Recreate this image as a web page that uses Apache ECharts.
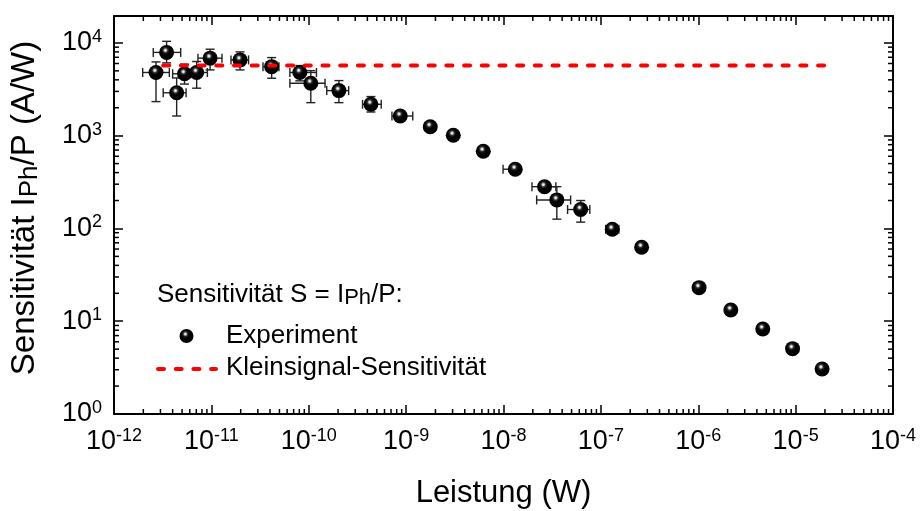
<!DOCTYPE html>
<html><head><meta charset="utf-8">
<script src="https://cdn.jsdelivr.net/npm/echarts@6/dist/echarts.min.js"></script>
<style>html,body{margin:0;padding:0;background:#fff}#c{width:920px;height:511px}</style>
</head><body><div id="c"></div>
<script>
// ---- data ----
const power = [2.7e-12, 3.47e-12, 4.4e-12, 5.3e-12, 7.06e-12, 9.7e-12, 1.97e-11, 4.16e-11, 8.1e-11, 1.05e-10, 2.04e-10, 4.35e-10, 8.7e-10, 1.77e-9, 3.05e-9, 6.2e-9, 1.32e-8, 2.64e-8, 3.53e-8, 6.2e-8, 1.31e-7, 2.62e-7, 1.02e-6, 2.16e-6, 4.6e-6, 9.3e-6, 1.87e-5];
const sensitivity = [4800, 7900, 2900, 4650, 4800, 6850, 6560, 5550, 4800, 3680, 3060, 2180, 1630, 1250, 1010, 680, 435, 282, 203, 160, 98, 62.7, 23.0, 13.2, 8.25, 5.06, 3.06];
const powerLow  = [1.97e-12, 2.53e-12, 3.2e-12, 4.0e-12, 5.57e-12, 7.28e-12, 1.59e-11, 3.39e-11, 6.4e-11, 6.4e-11, 1.53e-10, 3.57e-10, 7.15e-10, 1.56e-9, 2.8e-9, 5.6e-9, 9.9e-9, 1.96e-8, 2.19e-8, 4.55e-8, 1.12e-7, 2.45e-7, null, null, null, null, null];
const powerHigh = [3.7e-12, 4.84e-12, 5.5e-12, 6.13e-12, 9.1e-12, 1.285e-11, 2.41e-11, 4.94e-11, 1.2e-10, 1.47e-10, 2.57e-10, 5.55e-10, 1.17e-9, 1.98e-9, 3.3e-9, 6.8e-9, 1.47e-8, 3.45e-8, 4.89e-8, 7.7e-8, 1.53e-7, 2.8e-7, null, null, null, null, null];
const sensLow  = [2330, 6090, 1630, 3600, 3250, 5115, 5115, 4160, 3900, 2270, 2270, 1800, 1470, 1130, 920, 620, 405, 260, 126, 117, 88, 58, null, null, null, null, null];
const sensHigh = [6240, 10400, 4190, 5900, 6300, 8550, 8000, 6950, 5700, 5025, 3925, 2640, 1800, 1380, 1110, 745, 465, 305, 282, 200, 108, 68, null, null, null, null, null];
const smallSignalPower = [3.2e-12, 2.0e-5];
const smallSignalSens = [5700, 5700];
const xTickExponents = [-12, -11, -10, -9, -8, -7, -6, -5, -4];
const yTickExponents = [0, 1, 2, 3, 4];
const xMin = 1e-12, xMax = 1e-4, yMin = 1, yMax = 19500;

// ---- build ----
const FONT = 'Liberation Sans, Arial, sans-serif';
const scatterData = power.map((p, i) => [p, sensitivity[i]]);
const errData = [];
power.forEach((p, i) => { if (powerLow[i] != null) errData.push([p, sensitivity[i], powerLow[i], powerHigh[i], sensLow[i], sensHigh[i]]); });
const lineData = smallSignalPower.map((p, i) => [p, smallSignalSens[i]]);
const minorX = [], minorY = [];
for (let e = xTickExponents[0]; e < xTickExponents[xTickExponents.length - 1]; e++) for (let k = 2; k <= 9; k++) minorX.push([k * Math.pow(10, e), yMin]);
for (let e = yTickExponents[0]; e <= yTickExponents[yTickExponents.length - 1]; e++) for (let k = 2; k <= 9; k++) { const v = k * Math.pow(10, e); if (v < yMax) minorY.push([xMin, v]); }

function powLabel(list) {
  return function (v) {
    const l = Math.log10(v), e = Math.round(l);
    if (Math.abs(l - e) > 1e-6 || list.indexOf(e) < 0) return '';
    return '{b|10}{s|' + e + '}';
  };
}
const richTick = {
  b: { fontFamily: FONT, fontSize: 27, color: '#000', lineHeight: 30 },
  s: { fontFamily: FONT, fontSize: 18, color: '#000', lineHeight: 18, verticalAlign: 'top' }
};
const ballColor = { type: 'radial', x: 0.42, y: 0.36, r: 0.62, colorStops: [
  { offset: 0, color: '#ffffff' }, { offset: 0.1, color: '#d8d8d8' }, { offset: 0.26, color: '#2e2e2e' }, { offset: 0.45, color: '#020202' }, { offset: 1, color: '#000' }] };

const axisBase = { type: 'log', logBase: 10, axisLine: { show: true, onZero: false, lineStyle: { color: '#000', width: 2 } },
  axisTick: { show: true, inside: true, length: 9, lineStyle: { color: '#000', width: 1.5 } }, splitLine: { show: false } };

const chart = echarts.init(document.getElementById('c'), null, { renderer: 'canvas' });
chart.setOption({
  animation: false,
  backgroundColor: '#fff',
  grid: { left: 114, right: 27, top: 16, bottom: 97, containLabel: false, outerBoundsMode: 'none' },
  xAxis: [
    Object.assign({}, axisBase, { position: 'bottom', min: xMin, max: xMax,
      name: 'Leistung (W)', nameLocation: 'middle', nameGap: 64,
      nameTextStyle: { fontFamily: FONT, fontSize: 31, color: '#000' },
      axisLabel: { show: true, margin: 13, formatter: powLabel(xTickExponents), rich: richTick } }),
    Object.assign({}, axisBase, { position: 'top', min: xMin, max: xMax, axisLabel: { show: false } })
  ],
  yAxis: [
    Object.assign({}, axisBase, { position: 'left', min: yMin, max: yMax,
      name: 'Sensitivität I{sub|Ph}/P (A/W)', nameLocation: 'middle', nameGap: 71, nameRotate: 90,
      nameTextStyle: { fontFamily: FONT, fontSize: 33, color: '#000', lineHeight: 36, padding: [0, 0, 0, 14],
        rich: { sub: { fontFamily: FONT, fontSize: 26, color: '#000', lineHeight: 22, verticalAlign: 'bottom' } } },
      axisLabel: { show: true, margin: 12, formatter: powLabel(yTickExponents), rich: richTick, showMaxLabel: false } }),
    Object.assign({}, axisBase, { position: 'right', min: yMin, max: yMax, axisLabel: { show: false } })
  ],
  series: [
    { type: 'custom', name: 'minorX', data: minorX, silent: true, clip: false, z: 1,
      renderItem: function (params, api) {
        const cs = params.coordSys; const px = api.coord([api.value(0), yMin])[0];
        const st = { stroke: '#000', lineWidth: 1.5 };
        return { type: 'group', children: [
          { type: 'line', shape: { x1: px, y1: cs.y + cs.height, x2: px, y2: cs.y + cs.height - 5 }, style: st },
          { type: 'line', shape: { x1: px, y1: cs.y, x2: px, y2: cs.y + 5 }, style: st }] };
      } },
    { type: 'custom', name: 'minorY', data: minorY, silent: true, clip: false, z: 1,
      renderItem: function (params, api) {
        const cs = params.coordSys; const py = api.coord([xMin, api.value(1)])[1];
        const st = { stroke: '#000', lineWidth: 1.5 };
        return { type: 'group', children: [
          { type: 'line', shape: { x1: cs.x, y1: py, x2: cs.x + 5, y2: py }, style: st },
          { type: 'line', shape: { x1: cs.x + cs.width, y1: py, x2: cs.x + cs.width - 5, y2: py }, style: st }] };
      } },
    { type: 'custom', name: 'errors', data: errData, silent: true, z: 2,
      encode: { x: 0, y: 1 },
      renderItem: function (params, api) {
        const x = api.value(0), y = api.value(1);
        const c = 4.5, st = { stroke: '#222', lineWidth: 1.4 };
        const a = api.coord([api.value(2), y]), b = api.coord([api.value(3), y]);
        const u = api.coord([x, api.value(5)]), d = api.coord([x, api.value(4)]);
        return { type: 'group', children: [
          { type: 'line', shape: { x1: a[0], y1: a[1], x2: b[0], y2: b[1] }, style: st },
          { type: 'line', shape: { x1: a[0], y1: a[1] - c, x2: a[0], y2: a[1] + c }, style: st },
          { type: 'line', shape: { x1: b[0], y1: b[1] - c, x2: b[0], y2: b[1] + c }, style: st },
          { type: 'line', shape: { x1: u[0], y1: u[1], x2: d[0], y2: d[1] }, style: st },
          { type: 'line', shape: { x1: u[0] - c, y1: u[1], x2: u[0] + c, y2: u[1] }, style: st },
          { type: 'line', shape: { x1: d[0] - c, y1: d[1], x2: d[0] + c, y2: d[1] }, style: st }] };
      } },
    { type: 'scatter', name: 'Experiment', data: scatterData, symbol: 'circle', symbolSize: 15, z: 3,
      itemStyle: { color: ballColor, borderWidth: 0, opacity: 1 } },
    { type: 'line', name: 'Kleinsignal-Sensitivität', data: lineData, symbol: 'none', z: 4,
      lineStyle: { color: '#ff0000', width: 4, type: [6, 11.7], cap: 'round' } }
  ],
  graphic: [
    { type: 'text', x: 157, y: 281, style: { text: 'Sensitivität S = I{sub|Ph}/P:', fill: '#000', font: '26px ' + FONT, verticalAlign: 'top', lineHeight: 28,
        rich: { sub: { fontFamily: FONT, fontSize: 22, fill: '#000', lineHeight: 17, verticalAlign: 'bottom' } } } },
    { type: 'circle', shape: { cx: 186.5, cy: 336, r: 7 }, style: { fill: ballColor } },
    { type: 'text', x: 226, y: 336, style: { text: 'Experiment', fill: '#000', font: '26px ' + FONT, verticalAlign: 'middle' } },
    { type: 'line', shape: { x1: 158, y1: 369, x2: 216, y2: 369 }, style: { stroke: '#ff0000', lineWidth: 4, lineDash: [6, 11.7], lineCap: 'round' } },
    { type: 'text', x: 226, y: 368, style: { text: 'Kleinsignal-Sensitivität', fill: '#000', font: '26px ' + FONT, verticalAlign: 'middle' } }
  ]
});
</script></body></html>
